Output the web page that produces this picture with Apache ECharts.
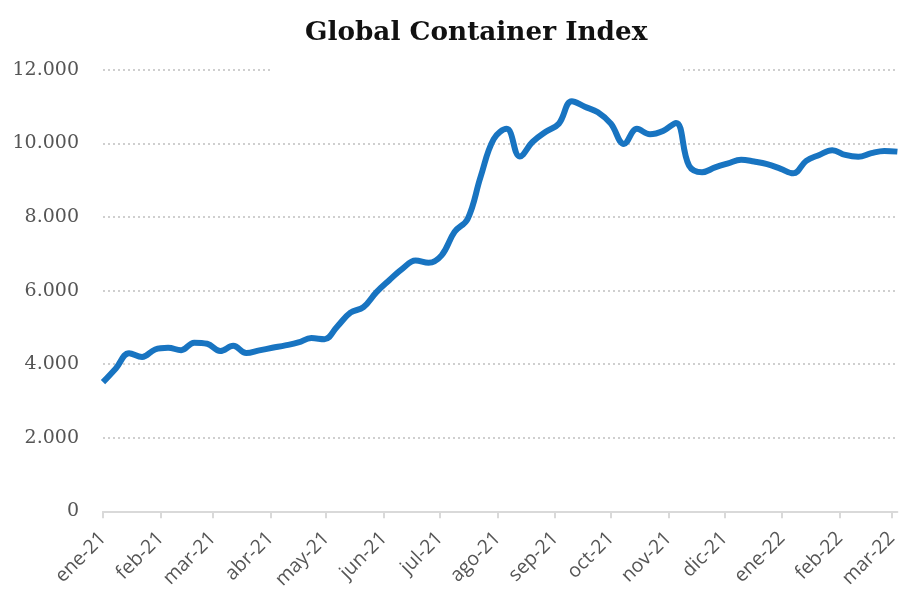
<!DOCTYPE html>
<html>
<head>
<meta charset="utf-8">
<script src="https://cdn.jsdelivr.net/npm/echarts@6/dist/echarts.min.js"></script>
<style>html,body{margin:0;padding:0;background:#fff;}#c{width:901px;height:592px;}</style>
</head>
<body>
<div id="c"></div>
<script>
const titleText = 'Global Container Index';
const monthNames = ['ene','feb','mar','abr','may','jun','jul','ago','sep','oct','nov','dic'];
const dates = ['2021-01-01','2021-01-08','2021-01-15','2021-01-22','2021-01-29','2021-02-05','2021-02-12','2021-02-19','2021-02-26','2021-03-05','2021-03-12','2021-03-19','2021-03-26','2021-04-02','2021-04-09','2021-04-16','2021-04-23','2021-04-30','2021-05-07','2021-05-14','2021-05-21','2021-05-28','2021-06-04','2021-06-11','2021-06-18','2021-06-25','2021-07-02','2021-07-09','2021-07-16','2021-07-23','2021-07-30','2021-08-06','2021-08-13','2021-08-20','2021-08-27','2021-09-03','2021-09-10','2021-09-17','2021-09-24','2021-10-01','2021-10-08','2021-10-15','2021-10-22','2021-10-29','2021-11-05','2021-11-12','2021-11-19','2021-11-26','2021-12-03','2021-12-10','2021-12-17','2021-12-24','2021-12-31','2022-01-07','2022-01-14','2022-01-21','2022-01-28','2022-02-04','2022-02-11','2022-02-18','2022-02-25','2022-03-04'];
const values = [3510,3890,4300,4195,4400,4447,4380,4585,4556,4357,4501,4303,4375,4445,4510,4590,4710,4680,5030,5400,5550,5960,6290,6600,6820,6760,6960,7600,7950,9100,10120,10400,9650,10050,10320,10540,11150,11000,10850,10540,9990,10400,10250,10340,10560,9400,9220,9350,9460,9560,9510,9440,9320,9190,9530,9690,9820,9690,9640,9740,9800,9780];
const yTicks = [0,2000,4000,6000,8000,10000,12000];

function fmtThousands(v){
  return String(v).replace(/\B(?=(\d{3})+(?!\d))/g,'.');
}
function parseDate(s){ const p=s.split('-'); return Date.UTC(+p[0], +p[1]-1, +p[2]); }

const chart = echarts.init(document.getElementById('c'), null, {renderer:'canvas'});
chart.setOption({
  animation:false,
  backgroundColor:'#fff',
  title:{
    text:titleText, left:300, top:15, z:100,
    textStyle:{fontFamily:'DejaVu Serif', fontWeight:'bold', fontSize:26.3, color:'#111'}
  },
  graphic:[{type:'rect', left:270, top:0, z:50, shape:{width:410, height:73}, style:{fill:'#fff'}}],
  grid:{left:103, right:0, top:70, bottom:79, containLabel:false},
  xAxis:{
    type:'time',
    min:parseDate('2021-01-01'),
    max:parseDate('2022-03-04'),
    splitNumber:14,
    minInterval:28*86400000,
    maxInterval:31*86400000,
    axisLine:{lineStyle:{color:'#d9d9d9', width:2}},
    axisTick:{show:true, length:7, lineStyle:{color:'#d9d9d9', width:2}},
    splitLine:{show:false},
    axisLabel:{
      rotate:45, margin:24, fontFamily:'Open Sans', fontSize:19.5, color:'#555',
      showMaxLabel:false,
      formatter:function(v){
        const d=new Date(v);
        return monthNames[d.getUTCMonth()]+'-'+String(d.getUTCFullYear()).slice(2);
      }
    }
  },
  yAxis:{
    type:'value', min:yTicks[0], max:yTicks[yTicks.length-1], interval:2000,
    axisLine:{show:false}, axisTick:{show:false},
    splitLine:{lineStyle:{color:'#cfcfcf', width:2, type:[2,3]}},
    axisLabel:{margin:24, fontFamily:'DejaVu Serif', fontSize:19, color:'#555', formatter:fmtThousands}
  },
  series:[{
    type:'line', smooth:0.4, symbol:'none',
    lineStyle:{color:'#1874c1', width:6},
    data:dates.map((d,i)=>[parseDate(d), values[i]])
  }]
});
</script>
</body>
</html>
